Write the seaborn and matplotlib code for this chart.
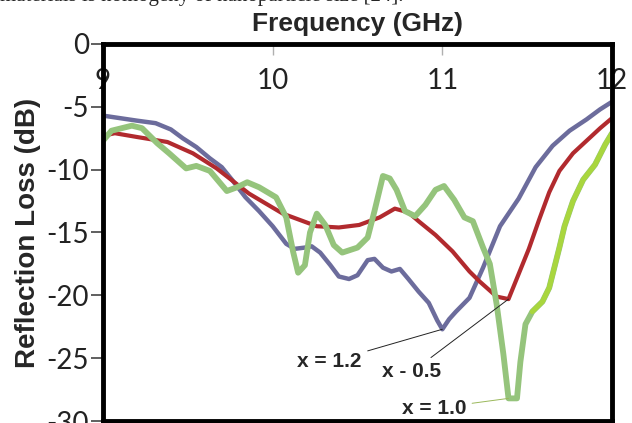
import matplotlib
matplotlib.use("Agg")
import matplotlib.pyplot as plt
import numpy as np
import pandas as pd
import seaborn as sns

# x = 1.2 (blue)
freq_12 = [9.00, 9.10, 9.20, 9.31, 9.40, 9.47, 9.55, 9.63, 9.70, 9.76, 9.84, 9.92,
           10.00, 10.08, 10.13, 10.19, 10.23, 10.28, 10.34, 10.39, 10.45, 10.50,
           10.56, 10.60, 10.65, 10.70, 10.75, 10.80, 10.86, 10.92, 10.97, 11.00,
           11.04, 11.08, 11.16, 11.24, 11.34, 11.45, 11.55, 11.65, 11.75, 11.85,
           11.93, 12.00]
rl_12 = [-5.7, -5.9, -6.1, -6.3, -6.8, -7.5, -8.2, -9.1, -9.8, -10.8, -12.2, -13.3,
         -14.5, -15.9, -16.3, -16.2, -16.1, -16.6, -17.6, -18.5, -18.7, -18.4,
         -17.2, -17.1, -17.8, -18.1, -17.9, -18.7, -19.7, -20.6, -22.0, -22.7,
         -21.9, -21.3, -20.2, -17.8, -14.5, -12.3, -9.8, -8.1, -6.9, -6.0,
         -5.2, -4.6]

# x = 0.5 (red)
freq_05 = [9.00, 9.07, 9.20, 9.38, 9.53, 9.67, 9.86, 10.06, 10.26, 10.39, 10.51,
           10.63, 10.72, 10.80, 10.86, 10.96, 11.06, 11.16, 11.22, 11.32, 11.39,
           11.45, 11.51, 11.57, 11.63, 11.69, 11.77, 11.85, 11.93, 12.00]
rl_05 = [-7.3, -7.1, -7.4, -7.8, -8.7, -9.9, -11.9, -13.5, -14.5, -14.6, -14.4,
         -13.8, -13.1, -13.4, -14.1, -15.2, -16.5, -18.1, -18.9, -20.1, -20.3,
         -18.3, -16.3, -14.0, -11.8, -10.1, -8.7, -7.7, -6.7, -5.9]

# x = 1.0 (green)
freq_10 = [9.00, 9.05, 9.17, 9.23, 9.32, 9.39, 9.49, 9.55, 9.63, 9.73, 9.79, 9.85,
           9.92, 10.02, 10.08, 10.12, 10.15, 10.19, 10.22, 10.26, 10.31, 10.36,
           10.41, 10.50, 10.56, 10.60, 10.65, 10.69, 10.73, 10.78, 10.84, 10.90,
           10.96, 11.01, 11.07, 11.13, 11.18, 11.24, 11.28, 11.32, 11.36, 11.39,
           11.44, 11.46, 11.49, 11.53, 11.59, 11.63, 11.69, 11.72, 11.77, 11.83,
           11.90, 11.96, 12.00]
rl_10 = [-7.7, -6.9, -6.5, -6.7, -7.9, -8.7, -9.9, -9.7, -10.1, -11.7, -11.4, -11.0,
         -11.4, -12.2, -13.8, -16.5, -18.2, -17.6, -15.0, -13.5, -14.4, -16.0,
         -16.6, -16.2, -15.4, -13.3, -10.5, -10.7, -11.6, -13.3, -13.7, -12.8,
         -11.6, -11.3, -12.4, -13.8, -14.1, -16.2, -17.5, -20.7, -24.7, -28.2,
         -28.2, -25.3, -22.3, -21.3, -20.5, -19.4, -16.2, -14.5, -12.5, -10.8,
         -9.6, -8.0, -7.1]

x_ticks = [9, 10, 11, 12]
y_ticks = [0, -5, -10, -15, -20, -25, -30]

series = [
    ("x = 1.2", freq_12, rl_12, "#6c6c9c", 3.2),
    ("x - 0.5", freq_05, rl_05, "#b12a2e", 3.0),
    ("x = 1.0", freq_10, rl_10, "#95c47c", 4.2),
]

sns.set_style("white")
plt.rcParams["font.family"] = ["Lato", "DejaVu Sans"]
plt.rcParams["axes.unicode_minus"] = False

fig = plt.figure(figsize=(6.32, 4.23), dpi=100)
ax = fig.add_axes([103 / 632, 2 / 423, 509 / 632, 377 / 423])

for name, fx, fy, col, lw in series:
    df = pd.DataFrame({"freq": fx, "rl": fy})
    sns.lineplot(data=df, x="freq", y="rl", ax=ax, color=col, linewidth=lw,
                 sort=False, estimator=None, solid_capstyle="round")

# brighter rising edge of the x = 1.0 curve
df10 = pd.DataFrame({"freq": freq_10, "rl": rl_10})
sns.lineplot(data=df10[df10["freq"] >= 11.52], x="freq", y="rl", ax=ax,
             color="#a9d63e", linewidth=3.6, sort=False, estimator=None)

ax.set_xlim(9, 12)
ax.set_ylim(-30, 0)
ax.set_xticks(x_ticks)
ax.set_yticks(y_ticks)
ax.set_xticklabels([str(t) for t in x_ticks])
ax.set_yticklabels([str(t) for t in y_ticks])

ax.xaxis.tick_top()
ax.xaxis.set_label_position("top")
ax.tick_params(axis="x", direction="in", length=8, width=1, color="#b0b0b0",
               labelsize=20, pad=-36, labelcolor="#222222")
ax.tick_params(axis="y", direction="out", length=9, width=1.2, color="#444444",
               labelsize=20, pad=1, labelcolor="#222222", left=True)

for sp in ax.spines.values():
    sp.set_linewidth(3.5)
    sp.set_color("black")

ax.set_xlabel("Frequency (GHz)", fontsize=19, fontweight="bold",
              family="Liberation Sans", labelpad=9)
ax.set_ylabel("Reflection Loss (dB)", fontsize=20, fontweight="bold",
              family="Liberation Sans", labelpad=4)

# annotations pointing to each curve minimum
labels_pos = {"x = 1.2": (10.335, -25.3), "x - 0.5": (10.82, -26.1), "x = 1.0": (10.95, -29.0)}
line_cols = {"x = 1.2": "#222222", "x - 0.5": "#222222", "x = 1.0": "#9ab85a"}
for name, fx, fy, col, lw in series:
    i = int(np.argmin(fy))
    ax.annotate(name, xy=(fx[i], fy[i]), xytext=labels_pos[name],
                ha="center", va="center", fontsize=15, fontweight="bold",
                family="Liberation Sans",
                arrowprops=dict(arrowstyle="-", color=line_cols[name], lw=0.7,
                                shrinkA=2, shrinkB=0))

fig.text(0.0, 1 - 1 / 423, "materials is homogeny of nanoparticle size [24].",
         family="Liberation Serif", fontsize=15, va="baseline", ha="left")

fig.savefig("out.png", dpi=100)
